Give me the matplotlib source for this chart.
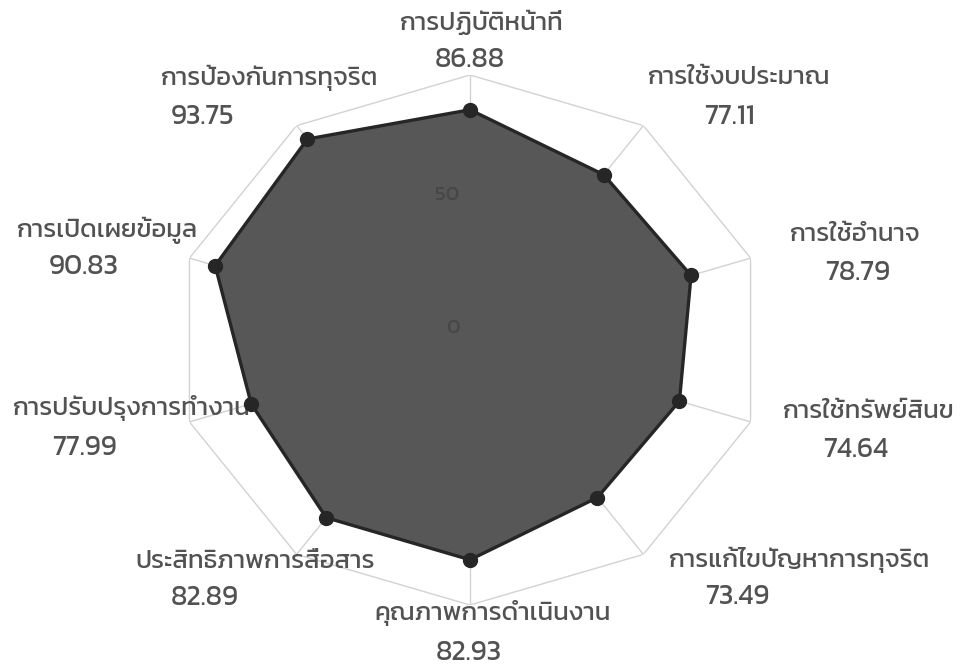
import numpy as np
import matplotlib
matplotlib.use("Agg")
import matplotlib.pyplot as plt
from matplotlib import font_manager as fm
from matplotlib.ft2font import FT2Font

# ---------------- data ----------------
categories = [
    "การปฏิบัติหน้าที่",
    "การใช้งบประมาณ",
    "การใช้อำนาจ",
    "การใช้ทรัพย์สินข",
    "การแก้ไขปัญหาการทุจริต",
    "คุณภาพการดำเนินงาน",
    "ประสิทธิภาพการสื่อสาร",
    "การปรับปรุงการทำงาน",
    "การเปิดเผยข้อมูล",
    "การป้องกันการทุจริต",
]
values = [86.88, 77.11, 78.79, 74.64, 73.49, 82.93, 82.89, 77.99, 90.83, 93.75]
value_labels = ["86.88", "77.11", "78.79", "74.64", "73.49",
                "82.93", "82.89", "77.99", "90.83", "93.75"]
r_ticks = [0, 50]
r_max = 100

# ---------------- font with Thai glyphs ----------------
pref = ["Kanit", "Prompt", "Noto Sans Thai", "Noto Sans Thai Looped", "Sarabun",
        "Loma", "Garuda", "Umpush", "Waree", "Tlwg Typo", "Norasi", "Kinnari"]
cands = []
for f in fm.fontManager.ttflist:
    try:
        if 0x0E01 in FT2Font(f.fname).get_charmap():
            cands.append(f.name)
    except Exception:
        pass
thai = None
for p in pref:
    if p in cands:
        thai = p
        break
if thai is None and cands:
    thai = cands[0]
families = ([thai] if thai else []) + ["DejaVu Sans"]
plt.rcParams["font.family"] = families

W, H = 970, 669
fig = plt.figure(figsize=(W / 100, H / 100), dpi=100)
fig.patch.set_facecolor("white")

cx, cy, rx, ry = 470, 340, 295, 265
ax = fig.add_axes([(cx - rx) / W, 1 - (cy + ry) / H, 2 * rx / W, 2 * ry / H],
                  projection="polar")
ax.set_aspect("auto")
ax.set_theta_zero_location("N")
ax.set_theta_direction(-1)
ax.set_ylim(0, r_max)
ax.set_facecolor("none")
ax.grid(False)
ax.spines["polar"].set_visible(False)
ax.set_xticks([])
ax.set_yticks([])

n = len(categories)
theta = np.arange(n) * 2 * np.pi / n
theta_c = np.append(theta, theta[0])

# grid polygon and spokes
ax.plot(theta_c, [r_max] * (n + 1), color="#d2d2d2", lw=1.0, zorder=0.5)
for t in theta:
    ax.plot([t, t], [0, r_max], color="#d2d2d2", lw=1.0, zorder=0.5)

vals_c = np.append(values, values[0])
ax.fill(theta_c, vals_c, color="#575757", zorder=2)
ax.plot(theta_c, vals_c, color="#262626", lw=2.4, zorder=3)
ax.plot(theta, values, "o", color="#262626", ms=10, zorder=4)

# radial tick labels
tick_pos = {0: (453, 328), 50: (447, 195)}
for rv in r_ticks:
    x, y = tick_pos[rv]
    ax.text(x / W, 1 - y / H, str(rv), transform=fig.transFigure,
            ha="center", va="center", fontsize=15, color="#474747", zorder=5)

# category labels (pixel positions of the two text lines)
name_pos = [(482, 23, "center"), (739, 78, "center"), (855, 235, "center"),
            (783, 412, "left"), (800, 560, "center"), (493, 613, "center"),
            (255, 562, "center"), (13, 408, "left"), (107, 230, "center"),
            (270, 78, "center")]
val_pos = [(470, 60), (730, 117), (858, 273), (856, 450), (737, 597),
           (469, 653), (205, 598), (85, 448), (84, 267), (203, 117)]
txt_col = "#525252"
for i in range(n):
    x, y, ha = name_pos[i]
    ax.text(x / W, 1 - y / H, categories[i], transform=fig.transFigure,
            ha=ha, va="center", fontsize=18.5, color=txt_col, zorder=1,
            clip_on=False)
    x, y = val_pos[i]
    ax.text(x / W, 1 - y / H, value_labels[i], transform=fig.transFigure,
            ha="center", va="center", fontsize=20, color=txt_col, zorder=1,
            clip_on=False)

fig.savefig("out.png", dpi=100, facecolor="white")
